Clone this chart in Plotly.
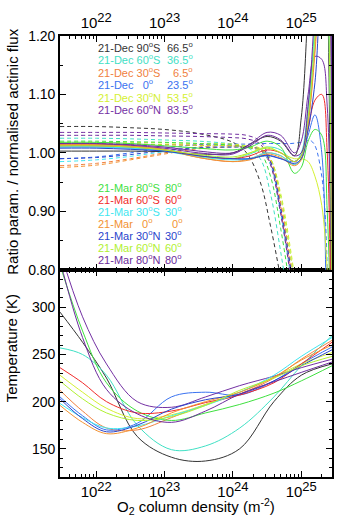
import plotly.graph_objects as go

# ---------------- data ----------------
# log10 of O2 column density (m^-2) sample positions
LOGN_RATIO = [21.47, 22.0, 22.5, 23.0, 23.5, 24.0, 24.25, 24.5, 24.7, 24.9, 25.0, 25.1, 25.2, 25.3, 25.38, 25.45]
LOGN_FLUX = [21.47, 22.0, 22.5, 23.0, 23.5, 24.0, 24.2, 24.4, 24.55, 24.7, 24.85, 25.0, 25.15, 25.3, 25.4]
LOGN_TEMP = [21.47, 21.8, 22.15, 22.6, 23.1, 23.6, 24.1, 24.6, 25.0, 25.45]

CASES = ["21-Dec 90S", "21-Dec 60S", "21-Dec 30S", "21-Dec 0", "21-Dec 30N", "21-Dec 60N",
         "21-Mar 80S", "21-Mar 60S", "21-Mar 30S", "21-Mar 0", "21-Mar 30N", "21-Mar 60N", "21-Mar 80N"]
COLORS = ["#333333", "#3fe0c4", "#f08040", "#3a72f0", "#d4f032", "#7330a3",
          "#3fe03f", "#f02a2a", "#3fe6f0", "#f29232", "#2a44cc", "#b0f032", "#6c2c9c"]

# ratio parameter (solid lines)
ratio_dec90s = [1.003, 1.003, 1.003, 1.002, 0.998, 1.000, 1.015, 1.028, 1.020, 0.995, 1.060, 1.250, 1.450, 1.500, 1.300, 0.400]
ratio_dec60s = [1.012, 1.012, 1.010, 1.005, 0.995, 0.990, 0.998, 1.010, 1.005, 0.985, 1.000, 1.080, 1.220, 1.400, 1.300, 0.400]
ratio_dec30s = [1.015, 1.015, 1.012, 1.006, 0.992, 0.985, 0.990, 1.000, 0.995, 0.980, 0.990, 1.050, 1.180, 1.350, 1.400, 0.500]
ratio_dec00 = [1.010, 1.010, 1.008, 1.004, 0.995, 0.990, 0.990, 0.995, 0.990, 0.985, 0.995, 1.030, 1.065, 1.000, 0.600, 0.300]
ratio_dec30n = [1.012, 1.012, 1.010, 1.005, 0.995, 0.990, 1.000, 1.010, 1.000, 0.990, 0.990, 0.985, 0.960, 0.910, 0.800, 0.600]
ratio_dec60n = [1.015, 1.015, 1.013, 1.008, 1.000, 0.998, 1.015, 1.035, 1.030, 1.000, 1.020, 1.100, 1.165, 1.160, 1.080, 0.600]
ratio_mar80s = [1.018, 1.018, 1.016, 1.012, 1.008, 1.005, 1.010, 1.020, 1.010, 0.965, 0.975, 1.020, 1.040, 1.030, 0.900, 0.600]
ratio_mar60s = [1.012, 1.012, 1.010, 1.005, 0.995, 0.990, 0.995, 1.005, 1.000, 0.985, 0.995, 1.040, 1.090, 1.100, 1.000, 0.500]
ratio_mar30s = [1.010, 1.010, 1.008, 1.003, 0.993, 0.988, 0.990, 1.000, 0.995, 0.980, 0.990, 1.060, 1.200, 1.350, 1.300, 0.400]
ratio_mar00 = [1.014, 1.014, 1.011, 1.005, 0.992, 0.985, 0.988, 0.998, 0.992, 0.978, 0.988, 1.050, 1.170, 1.350, 1.450, 0.500]
ratio_mar30n = [1.008, 1.008, 1.006, 1.003, 0.995, 0.990, 0.990, 0.996, 0.990, 0.982, 0.990, 1.040, 1.120, 1.300, 1.350, 0.400]
ratio_mar60n = [1.012, 1.012, 1.010, 1.005, 0.997, 0.993, 1.000, 1.008, 1.000, 0.985, 0.995, 1.060, 1.200, 1.400, 1.300, 0.500]
ratio_mar80n = [1.016, 1.016, 1.014, 1.010, 1.003, 1.000, 1.012, 1.030, 1.022, 0.995, 1.000, 1.080, 1.250, 1.450, 1.400, 0.500]

# normalised actinic flux (dashed lines)
flux_dec90s = [1.045, 1.045, 1.043, 1.040, 1.033, 1.018, 1.000, 0.950, 0.875, 0.785, 0.690, 0.600, 0.500, 0.400, 0.350]
flux_dec60s = [1.025, 1.025, 1.024, 1.022, 1.020, 1.015, 1.010, 0.990, 0.930, 0.830, 0.720, 0.620, 0.520, 0.420, 0.370]
flux_dec30s = [0.978, 0.982, 0.990, 1.000, 1.010, 1.012, 1.010, 1.005, 0.985, 0.910, 0.800, 0.680, 0.560, 0.450, 0.400]
flux_dec00 = [0.990, 0.993, 1.000, 1.008, 1.014, 1.015, 1.015, 1.016, 1.016, 1.016, 1.016, 1.018, 1.020, 0.960, 0.500]
flux_dec30n = [1.018, 1.018, 1.018, 1.017, 1.016, 1.015, 1.012, 1.008, 0.990, 0.930, 0.830, 0.700, 0.580, 0.460, 0.400]
flux_dec60n = [1.035, 1.035, 1.035, 1.034, 1.033, 1.032, 1.030, 1.020, 0.985, 0.900, 0.790, 0.670, 0.550, 0.440, 0.390]
flux_mar80s = [1.020, 1.020, 1.019, 1.018, 1.016, 1.013, 1.010, 1.000, 0.960, 0.870, 0.760, 0.650, 0.540, 0.430, 0.380]
flux_mar60s = [1.015, 1.015, 1.015, 1.014, 1.013, 1.012, 1.010, 1.004, 0.980, 0.900, 0.790, 0.670, 0.550, 0.440, 0.390]
flux_mar30s = [0.985, 0.988, 0.994, 1.002, 1.008, 1.010, 1.010, 1.005, 0.980, 0.895, 0.785, 0.665, 0.550, 0.440, 0.390]
flux_mar00 = [0.975, 0.979, 0.988, 0.998, 1.007, 1.010, 1.010, 1.006, 0.988, 0.915, 0.810, 0.690, 0.570, 0.455, 0.400]
flux_mar30n = [0.990, 0.992, 0.997, 1.004, 1.009, 1.010, 1.010, 1.006, 0.985, 0.905, 0.800, 0.680, 0.560, 0.450, 0.400]
flux_mar60n = [1.015, 1.015, 1.015, 1.014, 1.013, 1.012, 1.010, 1.006, 0.990, 0.925, 0.820, 0.700, 0.575, 0.460, 0.400]
flux_mar80n = [1.030, 1.030, 1.030, 1.029, 1.028, 1.026, 1.024, 1.015, 0.980, 0.895, 0.785, 0.665, 0.550, 0.440, 0.390]

# temperature (K)
temp_dec90s = [295, 263, 225, 163, 141, 137, 150, 200, 228, 240]
temp_dec60s = [257, 250, 228, 175, 149, 153, 172, 205, 238, 270]
temp_dec30s = [212, 190, 172, 170, 183, 197, 208, 225, 245, 265]
temp_dec00 = [205, 185, 170, 177, 205, 210, 207, 222, 240, 258]
temp_dec30n = [228, 210, 193, 182, 186, 197, 210, 226, 240, 252]
temp_dec60n = [360, 290, 240, 200, 194, 205, 217, 227, 236, 245]
temp_mar80s = [345, 275, 220, 190, 180, 188, 197, 209, 222, 238]
temp_mar60s = [236, 220, 200, 188, 190, 199, 207, 220, 240, 263]
temp_mar30s = [198, 183, 172, 174, 185, 196, 210, 228, 248, 268]
temp_mar00 = [196, 178, 166, 172, 188, 200, 210, 226, 244, 260]
temp_mar30n = [203, 182, 168, 175, 192, 202, 208, 222, 238, 255]
temp_mar60n = [222, 203, 188, 180, 184, 196, 212, 225, 238, 248]
temp_mar80n = [350, 268, 213, 187, 178, 190, 208, 221, 231, 242]

RATIOS = [ratio_dec90s, ratio_dec60s, ratio_dec30s, ratio_dec00, ratio_dec30n, ratio_dec60n,
          ratio_mar80s, ratio_mar60s, ratio_mar30s, ratio_mar00, ratio_mar30n, ratio_mar60n, ratio_mar80n]
FLUXES = [flux_dec90s, flux_dec60s, flux_dec30s, flux_dec00, flux_dec30n, flux_dec60n,
          flux_mar80s, flux_mar60s, flux_mar30s, flux_mar00, flux_mar30n, flux_mar60n, flux_mar80n]
TEMPS = [temp_dec90s, temp_dec60s, temp_dec30s, temp_dec00, temp_dec30n, temp_dec60n,
         temp_mar80s, temp_mar60s, temp_mar30s, temp_mar00, temp_mar30n, temp_mar60n, temp_mar80n]

# legend text
LEG_DATE = ["21-Dec"] * 6 + ["21-Mar"] * 7
LEG_LAT = ["90", "60", "30", "0", "30", "60", "80", "60", "30", "0", "30", "60", "80"]
LEG_HEMI = ["S", "S", "S", "", "N", "N", "S", "S", "S", "", "N", "N", "N"]
LEG_ANGLE = ["66.5", "36.5", "6.5", "23.5", "53.5", "83.5", "80", "60", "30", "0", "30", "60", "80"]

XTICK_EXP = [22, 23, 24, 25]
YTICKS_RATIO = [0.80, 0.90, 1.00, 1.10, 1.20]
YTICKS_TEMP = [150, 200, 250, 300]

# ---------------- figure ----------------
W, H = 344, 520
ML, MR, MT, MB = 60, 10, 26, 43
PW, PH = W - ML - MR, H - MT - MB
SPLIT_PX = 265  # pixel y of panel boundary
split = (H - MB - SPLIT_PX) / PH

FONT = "Liberation Sans, Arial, sans-serif"

fig = go.Figure()

for i, name in enumerate(CASES):
    fig.add_trace(go.Scatter(x=[10 ** v for v in LOGN_FLUX], y=FLUXES[i], mode="lines",
                             line=dict(color=COLORS[i], width=1, dash="4px,3px", shape="spline", smoothing=1.0),
                             xaxis="x2", yaxis="y2", showlegend=False, hoverinfo="skip"))
for i, name in enumerate(CASES):
    fig.add_trace(go.Scatter(x=[10 ** v for v in LOGN_RATIO], y=RATIOS[i], mode="lines",
                             line=dict(color=COLORS[i], width=1, shape="spline", smoothing=1.0),
                             xaxis="x2", yaxis="y2", showlegend=False, hoverinfo="skip"))
for i, name in enumerate(CASES):
    fig.add_trace(go.Scatter(x=[10 ** v for v in LOGN_TEMP], y=TEMPS[i], mode="lines",
                             line=dict(color=COLORS[i], width=1, shape="spline", smoothing=1.0),
                             xaxis="x", yaxis="y", showlegend=False, hoverinfo="skip"))

xr = [21.47, 25.45]
xticktext = ['10<sup><span style="font-size:13px">%d</span></sup>' % e for e in XTICK_EXP]
xtickvals = [10.0 ** e for e in XTICK_EXP]
common_ax = dict(showline=True, linecolor="black", linewidth=1.6, mirror="ticks", ticks="inside",
                 tickcolor="black", tickwidth=1.3, showgrid=False, zeroline=False)

fig.update_layout(
    width=W, height=H, margin=dict(l=ML, r=MR, t=MT, b=MB),
    paper_bgcolor="white", plot_bgcolor="white",
    font=dict(family=FONT, color="black"),
    xaxis=dict(type="log", range=xr, domain=[0, 1], anchor="y", side="bottom",
               tickvals=xtickvals, ticktext=xticktext, ticklen=6,
               tickfont=dict(size=15),
               minor=dict(ticks="inside", ticklen=3, dtick="D1", tickcolor="black", tickwidth=1),
               **common_ax),
    yaxis=dict(range=[120, 340], domain=[0, split], anchor="x",
               tickvals=YTICKS_TEMP, ticklen=6, tickfont=dict(size=14),
               minor=dict(ticks="inside", ticklen=3, dtick=10, tickcolor="black", tickwidth=1),
               **common_ax),
    xaxis2=dict(type="log", range=xr, domain=[0, 1], anchor="y2", side="top",
                tickvals=xtickvals, ticktext=xticktext, ticklen=6,
                tickfont=dict(size=15),
                minor=dict(ticks="inside", ticklen=3, dtick="D1", tickcolor="black", tickwidth=1),
                **common_ax),
    yaxis2=dict(range=[0.8, 1.2], domain=[split, 1], anchor="x2",
                tickvals=YTICKS_RATIO, tickformat=".2f", ticklen=6, tickfont=dict(size=14),
                minor=dict(ticks="inside", ticklen=3, dtick=0.05, tickcolor="black", tickwidth=1),
                **common_ax),
)


def pxx(px):
    return (px - ML) / PW


def pyy(py):
    return (H - MB - py) / PH


ann = []
# axis titles
ann.append(dict(text="Ratio param. / normalised actinic flux", x=pxx(12), y=pyy(144), xref="paper", yref="paper",
                textangle=-90, showarrow=False, font=dict(size=15), xanchor="center", yanchor="middle"))
ann.append(dict(text="Temperature (K)", x=pxx(12), y=pyy(345), xref="paper", yref="paper",
                textangle=-90, showarrow=False, font=dict(size=15), xanchor="center", yanchor="middle"))
ann.append(dict(text="O<sub>2</sub> column density (m<sup>-2</sup>)", x=pxx(197), y=pyy(507), xref="paper",
                yref="paper", showarrow=False, font=dict(size=15), xanchor="center", yanchor="middle"))

# legend text
ROW_Y = [37.3, 50, 62.7, 75.3, 88, 100.7, 180.7, 193, 205.2, 217.4, 229.6, 241.8, 254]
NB = "\u00a0"
for i in range(len(CASES)):
    lat = LEG_LAT[i] if len(LEG_LAT[i]) == 2 else NB + NB + LEG_LAT[i]
    left = "%s %s<sup>o</sup>%s" % (LEG_DATE[i], lat, LEG_HEMI[i])
    right = "%s<sup>o</sup>" % LEG_ANGLE[i]
    ax_right = 196 if i < 6 else 185
    ann.append(dict(text=left, x=pxx(96), y=pyy(ROW_Y[i]), xref="paper", yref="paper", showarrow=False,
                    font=dict(size=11, color=COLORS[i]), xanchor="left", yanchor="middle"))
    ann.append(dict(text=right, x=pxx(ax_right), y=pyy(ROW_Y[i]), xref="paper", yref="paper", showarrow=False,
                    font=dict(size=11, color=COLORS[i]), xanchor="right", yanchor="middle"))

fig.update_layout(annotations=ann)

fig.write_html("out.html")
